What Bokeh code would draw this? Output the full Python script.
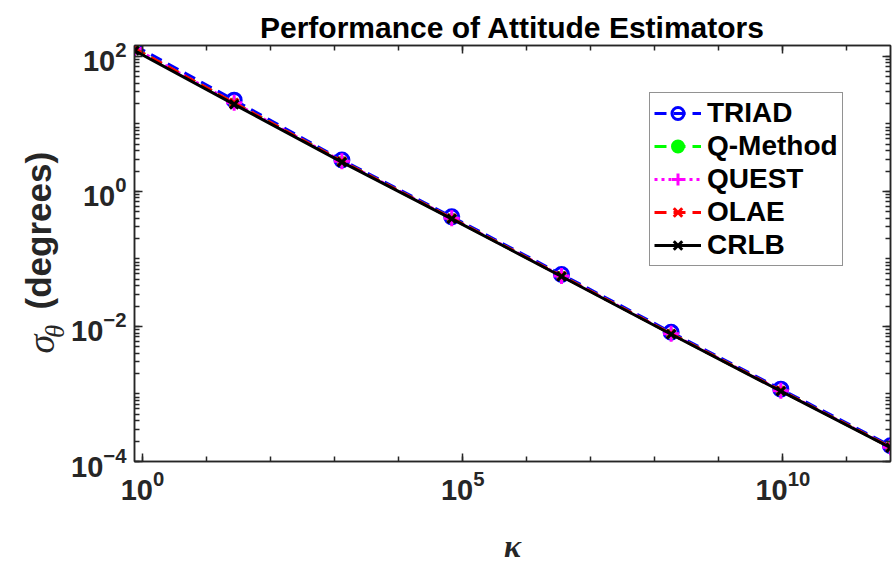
import math
from bokeh.plotting import figure
from bokeh.layouts import row
from bokeh.models import (Range1d, FixedTicker, LogAxis, Legend, LegendItem,
                          CustomJSTickFormatter)
from bokeh.core.properties import value
from bokeh.embed import file_html
from bokeh.resources import INLINE

# ---- data ----
kappa = [0.75, 27, 1300, 67500, 3.5e6, 1.8e8, 9.3e9, 4.8e11]
triad = [145, 22.5, 2.92, 0.42, 0.059, 0.0082, 0.00118, 0.000171]
qmethod = [131, 20.5, 2.8, 0.40, 0.056, 0.0078, 0.00112, 0.000163]
quest = [131, 20.5, 2.8, 0.40, 0.056, 0.0078, 0.00112, 0.000163]
olae = [131, 20.5, 2.8, 0.40, 0.056, 0.0078, 0.00112, 0.000163]
crlb = [122, 19.5, 2.72, 0.393, 0.055, 0.00766, 0.0011, 0.00016]

x_major = [1, 1e5, 1e10]
x_minor = [10.0 ** k for k in range(0, 12)]
y_major = [1e-4, 1e-2, 1, 1e2]
y_minor = [m * 10.0 ** k for k in range(-4, 3) for m in range(1, 10)]

title_text = "Performance of Attitude Estimators"
x_label = "κ"
y_symbol = "σ"
y_sub = "θ"
y_unit = "(degrees)"
names = ["TRIAD", "Q-Method", "QUEST", "OLAE", "CRLB"]

AX = "#262626"
FONT = "Liberation Sans"
LW = 68    # width of the y-label strip
H = 566
TOP = 45   # frame top (px)
BOT = 97   # space below frame (px)

# ---- strip holding the y-axis label (coordinates = canvas pixels, y up) ----
lab = figure(width=LW, height=H, x_range=Range1d(0, LW), y_range=Range1d(BOT, H - TOP),
             x_axis_type=None, y_axis_type=None, output_backend="svg",
             toolbar_location=None, min_border_left=0, min_border_right=0,
             min_border_top=TOP, min_border_bottom=BOT, title=None)
lab.grid.visible = False
lab.outline_line_color = None
lab.background_fill_color = "white"
lab.border_fill_color = "white"
common = dict(angle=math.pi / 2, text_color=AX, text_align="left",
              text_baseline="alphabetic")
lab.text(x=[40], y=[H - 359], text=[y_symbol], text_font=value("Liberation Serif"),
         text_font_style="italic", text_font_size="38px", **common)
lab.text(x=[54], y=[H - 343], text=[y_sub], text_font=value("Liberation Serif"),
         text_font_style="italic", text_font_size="27px", **common)
lab.text(x=[38], y=[H - 314], text=[y_unit], text_font=value(FONT),
         text_font_style="bold", text_font_size="35px", **common)

# ---- main plot ----
p = figure(width=893 - LW, height=H, x_axis_type="log", y_axis_type="log",
           x_range=Range1d(kappa[0], kappa[-1]),
           y_range=Range1d(1e-4, max(triad)),
           output_backend="svg", toolbar_location=None,
           min_border_left=133 - LW, min_border_right=3,
           min_border_top=TOP, min_border_bottom=BOT)
p.background_fill_color = "white"
p.border_fill_color = "white"
p.grid.visible = False
p.outline_line_color = AX
p.outline_line_width = 1.5

p.title.text = title_text
p.title.text_font = FONT
p.title.text_font_size = "30px"
p.title.text_font_style = "bold"
p.title.text_color = "black"
p.title.align = "center"
p.title.standoff = 4

xax = p.xaxis[0]
yax = p.yaxis[0]


def style_axis(ax, ticks, minor, labels=True, mj=8, mn=5):
    ax.ticker = FixedTicker(ticks=ticks, minor_ticks=minor)
    ax.axis_line_color = AX
    ax.axis_line_width = 1.5
    ax.major_tick_line_color = AX
    ax.minor_tick_line_color = AX
    ax.major_tick_line_width = 1.5
    ax.minor_tick_line_width = 1.5
    ax.major_tick_in = mj
    ax.major_tick_out = 0
    ax.minor_tick_in = mn
    ax.minor_tick_out = 0
    ax.major_label_text_font = FONT
    ax.major_label_text_font_style = "bold"
    ax.major_label_text_font_size = "29px"
    ax.major_label_text_color = AX
    if not labels:
        ax.formatter = CustomJSTickFormatter(code="return ''")
        ax.major_label_standoff = 0


style_axis(xax, x_major, x_minor)
style_axis(yax, y_major, y_minor)
xax.major_label_standoff = 8
yax.major_label_standoff = 8

top = LogAxis()
style_axis(top, x_major, x_minor, labels=False)
p.add_layout(top, "above")
right = LogAxis()
style_axis(right, y_major, y_minor, labels=False)
p.add_layout(right, "right")

xax.axis_label = x_label
xax.axis_label_text_font = "Liberation Serif"
xax.axis_label_text_font_style = "bold italic"
xax.axis_label_text_font_size = "32px"
xax.axis_label_text_color = AX
xax.axis_label_standoff = 25

series = [
    (triad, "#0000FF", "12 7", "circle", 14, "none"),
    (qmethod, "#00FF00", "12 7", "circle", 9, "#00FF00"),
    (quest, "#FF00FF", "3 4", "cross", 16, "none"),
    (olae, "#FF0000", "12 7", "x", 12, "none"),
    (crlb, "#000000", "solid", "x", 12, "none"),
]

items = []
for (vals, col, dash, marker, size, fill), name in zip(series, names):
    ln = p.line(kappa, vals, line_color=col, line_width=3, line_dash=dash)
    if fill == "none":
        sc = p.scatter(kappa, vals, marker=marker, size=size, line_color=col,
                       line_width=3, fill_alpha=0)
    else:
        sc = p.scatter(kappa, vals, marker=marker, size=size, line_color=col,
                       line_width=2, fill_color=fill)
    items.append(LegendItem(label=name, renderers=[ln, sc]))

legend = Legend(items=items, location=(515, 195))
legend.label_text_font = FONT
legend.label_text_font_style = "bold"
legend.label_text_font_size = "28px"
legend.label_text_color = "black"
legend.label_height = 30
legend.glyph_height = 30
legend.glyph_width = 47
legend.label_standoff = 6
legend.spacing = 1
legend.padding = 4
legend.margin = 0
legend.border_line_color = AX
legend.border_line_width = 1.5
legend.background_fill_color = "white"
legend.background_fill_alpha = 1
p.add_layout(legend, "center")

layout = row(lab, p, spacing=0)
open("out.html", "w").write(file_html(layout, INLINE))
